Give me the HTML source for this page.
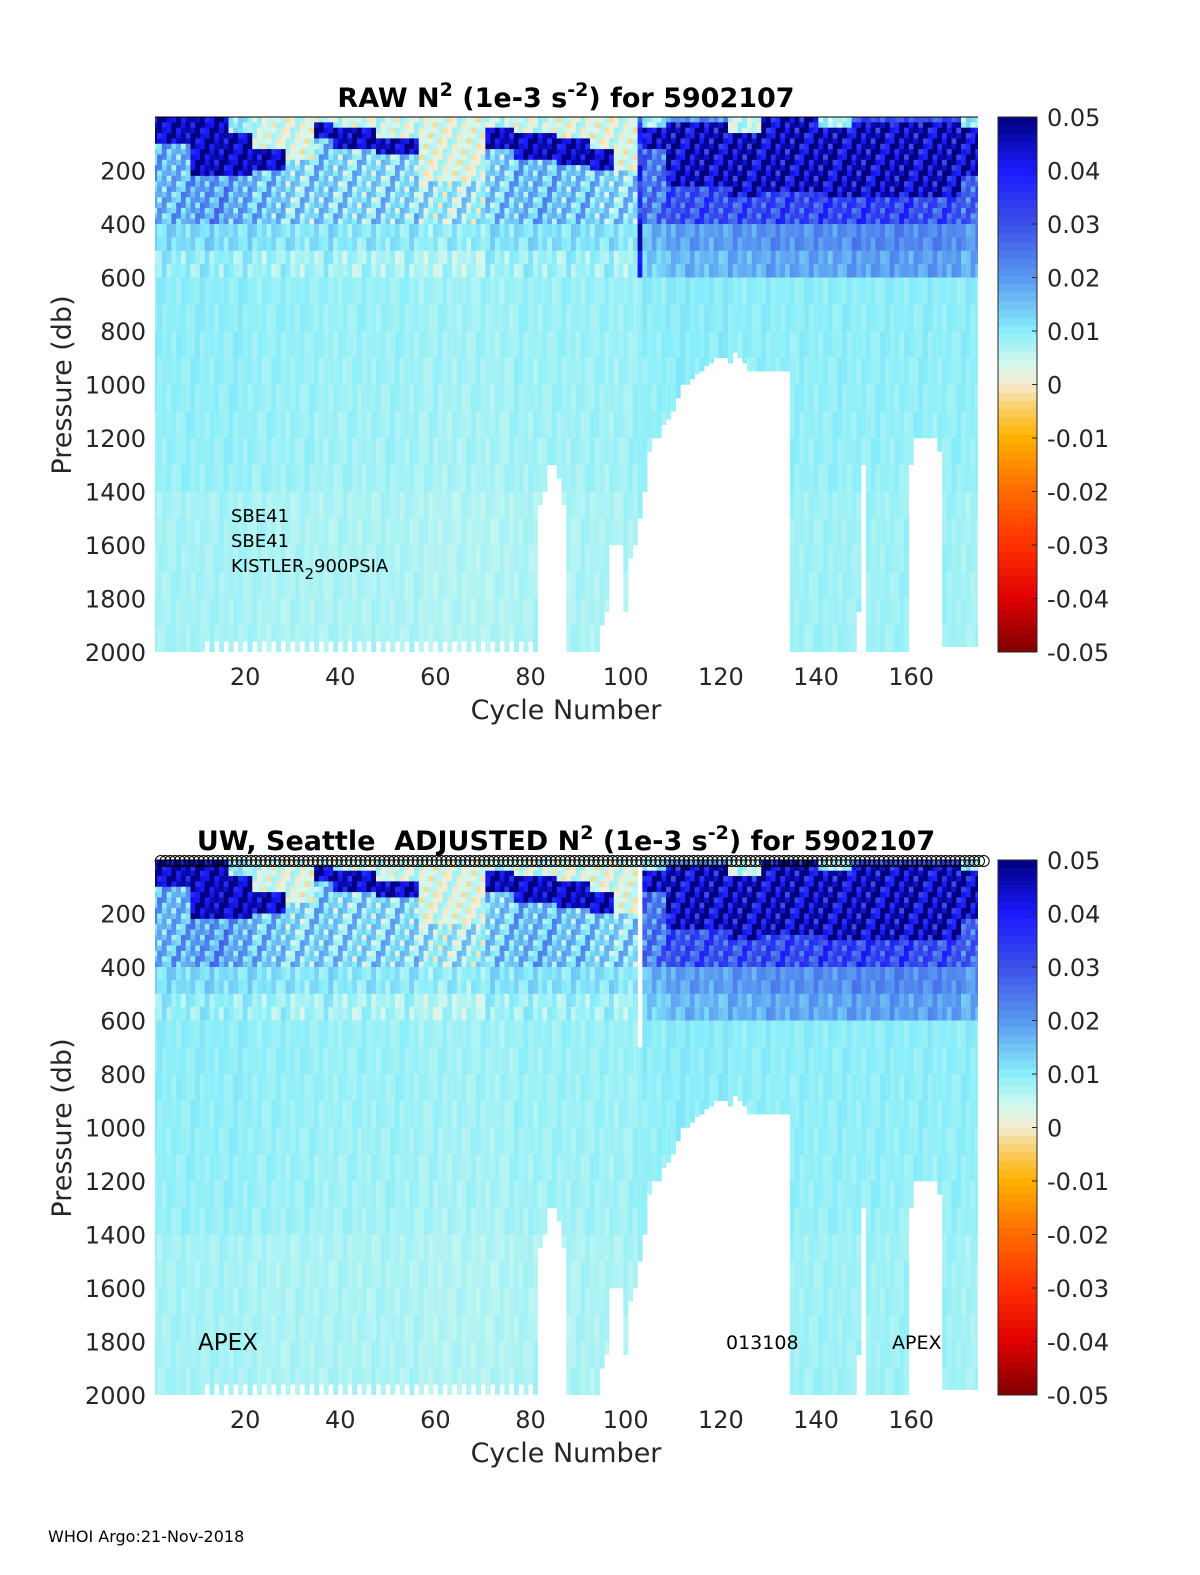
<!DOCTYPE html>
<html><head><meta charset="utf-8"><style>
body{margin:0;background:#fff;}
svg{display:block;font-family:"DejaVu Sans","Liberation Sans",sans-serif;}
</style></head><body>
<svg id="fig" width="1200" height="1575" viewBox="0 0 1200 1575">
<defs>
<clipPath id="clip1"><rect x="155" y="117" width="823" height="535"/></clipPath>
<clipPath id="clip2"><rect x="155" y="860" width="823" height="535"/></clipPath>
</defs>
<g id="plot1"></g>
<g id="plot2"></g>
<text x="566" y="107" text-anchor="middle" font-size="27" font-weight="bold">RAW N<tspan dy="-11" font-size="19">2</tspan><tspan dy="11"> (1e-3 s</tspan><tspan dy="-11" font-size="19">-2</tspan><tspan dy="11">) for 5902107</tspan></text>
<text x="566" y="850" text-anchor="middle" font-size="27" font-weight="bold" xml:space="preserve">UW, Seattle  ADJUSTED N<tspan dy="-11" font-size="19">2</tspan><tspan dy="11"> (1e-3 s</tspan><tspan dy="-11" font-size="19">-2</tspan><tspan dy="11">) for 5902107</tspan></text>
<text x="231" y="522" font-size="18">SBE41</text>
<text x="231" y="547" font-size="18">SBE41</text>
<text x="231" y="572" font-size="18">KISTLER<tspan dy="7" font-size="15">2</tspan><tspan dy="-7">900PSIA</tspan></text>
<text x="198" y="1350" font-size="23">APEX</text>
<text x="726" y="1349" font-size="19">013108</text>
<text x="892" y="1349" font-size="19">APEX</text>
<text x="48" y="1542" font-size="16">WHOI Argo:21-Nov-2018</text>
</svg>
<script>
// ---- data ----
const segStart = [1,9,17,22,29,35,39,48,57,71,77,86,93,98,103,104,109,122,129,141,148,161,171];
const segEnd   = [8,16,21,28,34,38,47,56,70,76,85,92,97,102,103,108,121,128,140,147,160,170,174];
const mixedVal = [0.02,0.045,0.01,0.004,0.003,0.004,0.004,0.004,0.003,0.005,0.004,0.003,0.003,0.003,-0.02,0.008,0.02,0.005,0.03,0.007,0.03,0.03,0.01];
const clineTop = [0,0,60,120,150,10,30,80,230,30,50,80,110,200,0,40,10,60,0,40,10,20,30];
const clineBot = [90,210,220,190,150,80,110,140,230,120,150,180,200,200,0,120,260,300,280,300,300,300,220];
const clineVal = 0.045;
const upperVal = [0.016,0.019,0.017,0.014,0.011,0.013,0.011,0.011,0.008,0.013,0.015,0.014,0.012,0.011,0.035,0.024,0.03,0.03,0.031,0.032,0.032,0.03,0.027];
const midVal   = [0.012,0.012,0.0115,0.011,0.01,0.011,0.01,0.01,0.009,0.011,0.011,0.011,0.011,0.01,0.045,0.016,0.019,0.02,0.021,0.021,0.022,0.022,0.02];
const deepVal  = [0.0095,0.0095,0.0095,0.009,0.009,0.0085,0.0085,0.0085,0.008,0.008,0.0085,0.0085,0.0085,0.0085,0.009,0.0095,0.01,0.0095,0.0095,0.0095,0.0095,0.0095,0.0095];
const abyssVal = [0.0075,0.0075,0.0075,0.007,0.007,0.007,0.007,0.007,0.0065,0.0065,0.007,0.007,0.007,0.007,0.008,0.0075,0.0075,0.0075,0.008,0.008,0.008,0.008,0.0075];
const gapCycles = [82,83,84,85,86,87,95,96,97,98,99,100,101,102,103,104,105,106,107,108,109,110,111,112,113,114,115,116,117,118,119,120,121,122,123,124,125,126,127,128,129,130,131,132,133,134,149,150,160,161,162,163,164,165,166,167,168,169,170,171,172,173,174];
const gapDepth  = [1450,1400,1300,1300,1350,1450,1900,1850,1600,1600,1600,1850,1650,1600,1500,1400,1250,1200,1200,1150,1130,1100,1050,1000,1000,980,960,950,930,920,900,900,900,920,880,900,920,950,950,950,950,950,950,950,950,950,1850,1300,1300,1200,1200,1200,1200,1200,1250,1980,1980,1980,1980,1980,1980,1980,1980];
const shortCycles = [12,14,16,18,20,22,24,26,28,30,32,34,36,38,40,42,44,46,48,50,52,54,56,58,60,62,64,66,68,70,72,74,76,78,80];
const adjBlankCycle = [103];
const adjBlankDepth = 650;
const jitter = [0.3,-0.6,0.9,-0.2,0.5,-0.9,0.1,0.7,-0.4,-0.8,0.6,0.2,-0.3,0.8,-0.5,0.4,-0.1];
const yTicks = [200,400,600,800,1000,1200,1400,1600,1800,2000];
const xTicks = [20,40,60,80,100,120,140,160];
const cbTicks = [0.05,0.04,0.03,0.02,0.01,0,-0.01,-0.02,-0.03,-0.04,-0.05];
const cbLabels = ["0.05","0.04","0.03","0.02","0.01","0","-0.01","-0.02","-0.03","-0.04","-0.05"];
const NC = 174;

// ---- colormap ----
const cmV = [-0.05,-0.04,-0.03,-0.02,-0.01,-0.004,0,0.004,0.01,0.02,0.03,0.04,0.05];
const cmC = ["#7f0000","#e00000","#ff3000","#ff6a00","#ffb000","#f8d070","#f6ecd0","#d4f8ee","#88eefa","#5898f0","#3c50e8","#1a1aff","#00007f"];
function hx(h){return [parseInt(h.substr(1,2),16),parseInt(h.substr(3,2),16),parseInt(h.substr(5,2),16)];}
function cmap(v){
  v=Math.max(-0.05,Math.min(0.05,v));
  for(let i=0;i<cmV.length-1;i++){
    if(v<=cmV[i+1]){const t=(v-cmV[i])/(cmV[i+1]-cmV[i]);const a=hx(cmC[i]),b=hx(cmC[i+1]);
      return "rgb("+a.map((x,k)=>Math.round(x+(b[k]-x)*t)).join(",")+")";}
  }
  return cmC[cmC.length-1];
}
const X0=155,X1=978;
function xs(c){return X0+(c-1.05)*(X1-X0)/(174.06-1.05);}
function ysF(top){return d=>top+d*535/2000;}
function segOf(c){for(let i=0;i<segStart.length;i++){if(c>=segStart[i]&&c<=segEnd[i])return i;}return 0;}
function maxDepth(c){const k=gapCycles.indexOf(c);if(k>=0)return gapDepth[k];if(shortCycles.indexOf(c)>=0)return 1960;return 2000;}
const rowEdges=[];
for(let d=0;d<400;d+=20)rowEdges.push(d);
[400,450,500,550,600,700,800,900,1000,1100,1200,1300,1400,1500,1600,1700,1800,1900,2000].forEach(d=>rowEdges.push(d));
function value(c,d,r){
  const s=segOf(c);
  const j=jitter[(c*5+r*11)%jitter.length];
  let v,a;
  if(d<clineTop[s]){v=mixedVal[s];a=0.006;}
  else if(d<clineBot[s]){v=clineVal;a=(c>104?0.016:0.01);}
  else if(d<400){v=upperVal[s];a=0.01;}
  else if(d<600){v=midVal[s]-(d>=500?0.003:0);a=0.004;}
  else if(d<1400){v=deepVal[s]-(d-600)*0.0000012;a=0.0016;}
  else {v=abyssVal[s];a=0.0014;}
  return v+j*a;
}
const NS="http://www.w3.org/2000/svg";
function mk(tag,attrs,parent){const e=document.createElementNS(NS,tag);for(const k in attrs)e.setAttribute(k,attrs[k]);parent.appendChild(e);return e;}

function drawPlot(g,top,clipId,adjusted){
  const ys=ysF(top);
  const hm=mk("g",{"clip-path":"url(#"+clipId+")"},g);
  
  
  for(let c=1;c<=NC;c++){
    const md=maxDepth(c);
    const xa=xs(c-0.5),xb=xs(c+0.5);
    for(let r=0;r<rowEdges.length-1;r++){
      const d0=rowEdges[r],d1=Math.min(rowEdges[r+1],md);
      if(d0>=md)break;
      if(adjusted&&adjBlankCycle.indexOf(c)>=0&&d0<adjBlankDepth)continue;
      let v=value(c,d0,r);
      if(c===103&&d0>=700)v=deepVal[segOf(c)];
      const rc=mk("rect",{x:xa.toFixed(2),y:ys(d0).toFixed(2),width:(xb-xa+0.3).toFixed(2),height:(ys(d1)-ys(d0)+0.3).toFixed(2),fill:cmap(v)},hm);
      
      
    }
  }
  const tl=mk("line",{x1:X0,y1:top,x2:X1,y2:top,stroke:"#000","stroke-width":1},g);
  
  
  yTicks.forEach(t=>{
    const tx=mk("text",{x:146,y:ys(t)+9,"text-anchor":"end","font-size":24,fill:"#262626"},g);
    tx.textContent=t;
    
    
  });
  xTicks.forEach(t=>{
    const tx=mk("text",{x:xs(t),y:top+535+33,"text-anchor":"middle","font-size":24,fill:"#262626"},g);
    tx.textContent=t;
    
    
  });
  const xl=mk("text",{x:566,y:top+535+67,"text-anchor":"middle","font-size":27,fill:"#262626"},g);
  xl.textContent="Cycle Number";
  
  
  const yl=mk("text",{x:0,y:0,"text-anchor":"middle","font-size":27,fill:"#262626",transform:"translate(71,"+(top+268)+") rotate(-90)"},g);
  yl.textContent="Pressure (db)";
  
  
  const cb=mk("g",{},g);
  
  
  const n=64,h=535/n;
  for(let i=0;i<n;i++){
    const v=0.05-(i+0.5)*0.1/n;
    mk("rect",{x:998,y:(top+i*h).toFixed(2),width:39,height:(h+0.4).toFixed(2),fill:cmap(v)},cb);
  }
  mk("rect",{x:998,y:top,width:39,height:535,fill:"none",stroke:"#262626","stroke-width":1},cb);
  cbTicks.forEach((t,i)=>{
    const yy=top+(0.05-t)/0.1*535;
    mk("line",{x1:1032,y1:yy,x2:1037,y2:yy,stroke:"#262626","stroke-width":1},cb);
    const tx=mk("text",{x:1047,y:yy+9,"font-size":24,fill:"#262626"},cb);
    tx.textContent=cbLabels[i];
    
    
  });
  if(adjusted){
    const mg=mk("g",{},g);
    
    
    for(let c=1;c<=NC;c++){
      const ci=mk("circle",{cx:(xs(c)+6).toFixed(2),cy:top+1,r:5.5,fill:"none",stroke:"#000","stroke-width":1},mg);
      
      
    }
  }
}
drawPlot(document.getElementById("plot1"),117,"clip1",false);
drawPlot(document.getElementById("plot2"),860,"clip2",true);
</script>
</body></html>
